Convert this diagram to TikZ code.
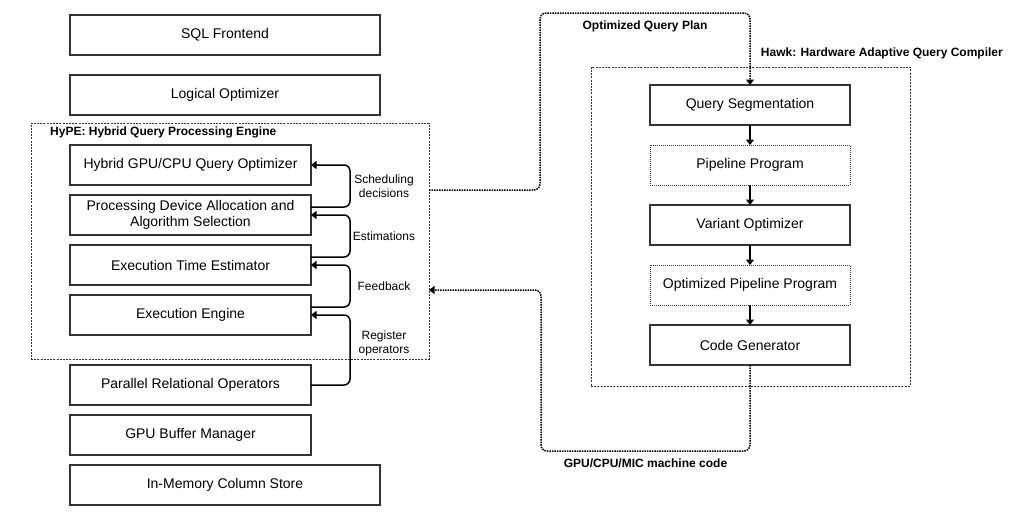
\documentclass[tikz,border=0pt]{standalone}
\usepackage{fontspec}
\setmainfont{Liberation Sans}
\usetikzlibrary{arrows.meta, positioning}

\begin{document}
\begin{tikzpicture}[
    x=1pt, y=-1pt,
    node distance=10pt,
    every node/.style={font=\fontsize{14}{16}\selectfont},
    block/.style={rectangle, draw=black!80, line width=1.3pt, minimum width=241pt, minimum height=40pt, inner sep=2pt, outer sep=0pt, align=center},
    wideblock/.style={block, minimum width=310pt},
    stage/.style={block, minimum width=200pt},
    dotstage/.style={stage, line width=1pt, dash pattern=on 1pt off 1pt},
    groupbox/.style={rectangle, draw=black!80, line width=0.8pt, dash pattern=on 2pt off 1.2pt, inner sep=0pt, outer sep=0pt},
    title/.style={font=\fontsize{12}{14}\selectfont\bfseries, inner sep=2pt},
    note/.style={font=\fontsize{12}{14}\selectfont, align=center, inner sep=1pt},
    arrow/.style={-{Triangle[length=5.5pt, width=8pt]}, line width=1.5pt, rounded corners=6pt},
    flow/.style={arrow, dash pattern=on 1.5pt off 1pt}
]
    \useasboundingbox (0,0) rectangle (1023,525);

    \node[wideblock, anchor=north west] (sql) at (70,15) {SQL Frontend};
    \node[wideblock, below=20pt of sql] (logopt) {Logical Optimizer};

    \node[groupbox, minimum width=398pt, minimum height=236pt, anchor=north west] (hype) at (31,123) {};
    \node[title, anchor=west] (hypelbl) at (48,132) {HyPE: Hybrid Query Processing Engine};
    \node[block, anchor=north west] (hybrid) at (70,145) {Hybrid GPU/CPU Query Optimizer};
    \node[block, below=of hybrid] (alloc) {Processing Device Allocation and\\Algorithm Selection};
    \node[block, below=of alloc] (estim) {Execution Time Estimator};
    \node[block, below=of estim] (engine) {Execution Engine};

    \node[block, below=30pt of engine] (parallel) {Parallel Relational Operators};
    \node[block, below=of parallel] (gpubuf) {GPU Buffer Manager};
    \node[wideblock, below=10pt of gpubuf.south west, anchor=north west] (colstore) {In-Memory Column Store};

    \node[groupbox, minimum width=319pt, minimum height=319pt, anchor=north west] (hawk) at (591,67) {};
    \node[title, anchor=east] (hawklbl) at (1005,53) {Hawk: Hardware Adaptive Query Compiler};
    \node[stage, anchor=north] (qseg) at (750,85) {Query Segmentation};
    \node[dotstage, below=20pt of qseg] (pipe) {Pipeline Program};
    \node[stage, below=20pt of pipe] (variant) {Variant Optimizer};
    \node[dotstage, below=20pt of variant] (optpipe) {Optimized Pipeline Program};
    \node[stage, below=20pt of optpipe] (codegen) {Code Generator};

    \coordinate (planout) at (hype.east |- 0,190);
    \coordinate (codein) at (hype.east |- 0,290);

    \draw[arrow] ([yshift=8pt]alloc.east) -- ++(39,0) |- node[pos=0.25, xshift=34pt, note] {Scheduling\\decisions} (hybrid.east);
    \draw[arrow] ([yshift=8pt]estim.east) -- ++(39,0) |- node[pos=0.25, xshift=34pt, note] {Estimations} (alloc.east);
    \draw[arrow] ([yshift=8pt]engine.east) -- ++(39,0) |- node[pos=0.25, xshift=34pt, note] {Feedback} (estim.east);
    \draw[arrow] (parallel.east) -- ++(39,0) |- node[pos=0.3, xshift=34pt, note] {Register\\operators} (engine.east);

    \draw[arrow] (qseg) -- (pipe);
    \draw[arrow] (pipe) -- (variant);
    \draw[arrow] (variant) -- (optpipe);
    \draw[arrow] (optpipe) -- (codegen);

    \draw[flow] (planout) -- ++(111,0) |- node[pos=0.75, below=5pt, title] {Optimized Query Plan} ([yshift=72pt]qseg.north) -- (qseg.north);
    \draw[flow] (codegen.south) -- ++(0,86) -| node[pos=0.25, below=5pt, title] {GPU/CPU/MIC machine code} ([xshift=112pt]codein) -- (codein);
\end{tikzpicture}
\end{document}
